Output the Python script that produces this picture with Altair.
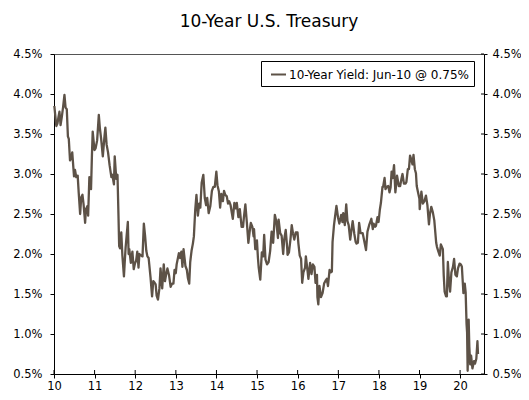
import altair as alt
import pandas as pd

# ---- data (10-year Treasury yield, %) ----
dates = [
    "2010-01-04","2010-01-12","2010-01-22","2010-02-01","2010-02-10","2010-02-19","2010-03-01","2010-03-12","2010-03-24","2010-04-05",
    "2010-04-15","2010-04-26","2010-05-06","2010-05-14","2010-05-25","2010-06-04","2010-06-14","2010-06-30","2010-07-09","2010-07-20",
    "2010-08-02","2010-08-11","2010-08-24","2010-09-03","2010-09-14","2010-09-24","2010-10-08","2010-10-15","2010-10-29","2010-11-04",
    "2010-11-15","2010-11-30","2010-12-08","2010-12-15","2010-12-31",
    "2011-01-10","2011-01-24","2011-02-08","2011-02-17","2011-03-01","2011-03-16","2011-03-31","2011-04-08","2011-04-19","2011-05-02",
    "2011-05-16","2011-06-01","2011-06-10","2011-06-24","2011-07-01","2011-07-15","2011-07-26","2011-08-04","2011-08-10","2011-08-18",
    "2011-08-29","2011-09-08","2011-09-22","2011-09-30","2011-10-07","2011-10-27","2011-11-03","2011-11-09","2011-11-23","2011-12-07",
    "2011-12-19","2011-12-30",
    "2012-01-10","2012-01-20","2012-01-31","2012-02-08","2012-02-24","2012-03-07","2012-03-19","2012-03-30","2012-04-10","2012-04-20",
    "2012-05-01","2012-05-18","2012-06-01","2012-06-12","2012-06-20","2012-07-03","2012-07-12","2012-07-24","2012-08-06","2012-08-16",
    "2012-08-31","2012-09-14","2012-09-25","2012-10-05","2012-10-17","2012-11-01","2012-11-15","2012-11-28","2012-12-10","2012-12-20",
    "2012-12-31",
    "2013-01-08","2013-01-28","2013-02-08","2013-02-19","2013-03-01","2013-03-11","2013-03-28","2013-04-10","2013-04-19","2013-05-01",
    "2013-05-10","2013-05-22","2013-06-03","2013-06-12","2013-06-24","2013-07-05","2013-07-18","2013-07-30","2013-08-09","2013-08-21",
    "2013-09-05","2013-09-18","2013-09-30","2013-10-10","2013-10-23","2013-11-07","2013-11-21","2013-12-04","2013-12-17","2013-12-31",
    "2014-01-10","2014-01-23","2014-02-03","2014-02-14","2014-02-28","2014-03-10","2014-03-21","2014-04-04","2014-04-15","2014-04-25",
    "2014-05-08","2014-05-28","2014-06-11","2014-06-24","2014-07-03","2014-07-17","2014-07-30","2014-08-15","2014-08-28","2014-09-05",
    "2014-09-18","2014-10-01","2014-10-15","2014-10-30","2014-11-06","2014-11-20","2014-12-01","2014-12-05","2014-12-16","2014-12-31",
    "2015-01-09","2015-01-16","2015-01-30","2015-02-13","2015-02-25","2015-03-06","2015-03-18","2015-04-01","2015-04-15","2015-04-29",
    "2015-05-12","2015-05-26","2015-06-10","2015-06-23","2015-07-08","2015-07-14","2015-07-28","2015-08-10","2015-08-24","2015-09-02",
    "2015-09-16","2015-09-30","2015-10-02","2015-10-15","2015-10-29","2015-11-09","2015-11-20","2015-12-02","2015-12-15","2015-12-31",
    "2016-01-08","2016-01-20","2016-02-01","2016-02-11","2016-02-22","2016-03-08","2016-03-15","2016-03-31","2016-04-07","2016-04-22",
    "2016-05-05","2016-05-17","2016-05-31","2016-06-10","2016-06-23","2016-06-27","2016-07-05","2016-07-15","2016-07-29","2016-08-12",
    "2016-08-26","2016-09-09","2016-09-19","2016-09-30","2016-10-14","2016-10-25","2016-11-04","2016-11-10","2016-11-23","2016-12-01",
    "2016-12-15","2016-12-30",
    "2017-01-10","2017-01-18","2017-01-27","2017-02-07","2017-02-14","2017-02-28","2017-03-13","2017-03-24","2017-04-04","2017-04-18",
    "2017-05-01","2017-05-10","2017-05-25","2017-06-06","2017-06-14","2017-06-26","2017-07-07","2017-07-20","2017-08-08","2017-08-18",
    "2017-09-07","2017-09-20","2017-10-05","2017-10-25","2017-11-07","2017-11-14","2017-11-28","2017-12-05","2017-12-19","2017-12-29",
    "2018-01-09","2018-01-19","2018-02-02","2018-02-08","2018-02-21","2018-03-01","2018-03-13","2018-03-26","2018-04-06","2018-04-16",
    "2018-04-25","2018-05-04","2018-05-17","2018-05-29","2018-06-13","2018-06-29","2018-07-11","2018-07-24","2018-08-01","2018-08-14",
    "2018-08-29","2018-09-05","2018-09-18","2018-09-28","2018-10-08","2018-10-17","2018-10-30","2018-11-08","2018-11-20","2018-11-30",
    "2018-12-07","2018-12-19","2018-12-31",
    "2019-01-03","2019-01-18","2019-01-31","2019-02-14","2019-02-28","2019-03-13","2019-03-27","2019-04-05","2019-04-17","2019-05-01",
    "2019-05-14","2019-05-31","2019-06-07","2019-06-20","2019-07-02","2019-07-12","2019-07-30","2019-08-07","2019-08-15","2019-08-28",
    "2019-09-04","2019-09-13","2019-09-24","2019-10-03","2019-10-15","2019-10-29","2019-11-08","2019-11-20","2019-12-03","2019-12-13",
    "2019-12-27",
    "2020-01-08","2020-01-17","2020-01-31","2020-02-12","2020-02-20","2020-02-28","2020-03-04","2020-03-09","2020-03-18","2020-03-24",
    "2020-04-01","2020-04-09","2020-04-21","2020-05-05","2020-05-14","2020-05-26","2020-06-05","2020-06-10",
]
yields = [
    3.85,3.74,3.60,3.63,3.71,3.78,3.61,3.71,3.84,3.99,
    3.83,3.81,3.47,3.44,3.17,3.20,3.27,2.97,3.05,2.96,
    2.98,2.77,2.50,2.71,2.74,2.62,2.39,2.56,2.60,2.48,
    2.96,2.81,3.23,3.53,3.30,
    3.32,3.42,3.74,3.58,3.44,3.22,3.47,3.58,3.37,3.27,
    3.11,2.96,2.99,2.87,3.22,2.94,2.99,2.47,2.10,2.07,
    2.27,1.98,1.72,1.92,2.08,2.40,2.00,2.06,1.89,2.03,
    1.81,1.88,
    1.92,2.03,1.83,2.00,1.98,1.97,2.38,2.23,2.04,1.97,
    1.95,1.71,1.47,1.66,1.65,1.62,1.48,1.43,1.57,1.82,
    1.57,1.87,1.66,1.74,1.82,1.73,1.59,1.63,1.63,1.80,
    1.76,
    1.87,2.01,1.95,2.03,1.84,2.06,1.85,1.80,1.70,1.63,
    1.90,2.04,2.13,2.22,2.55,2.74,2.48,2.63,2.58,2.89,
    2.99,2.70,2.61,2.70,2.51,2.60,2.79,2.84,2.84,3.03,
    2.86,2.78,2.58,2.75,2.66,2.79,2.74,2.72,2.63,2.66,
    2.61,2.44,2.64,2.57,2.64,2.46,2.56,2.34,2.34,2.46,
    2.62,2.40,2.14,2.32,2.39,2.34,2.22,2.31,2.06,2.17,
    1.95,1.83,1.68,2.02,1.97,2.24,1.93,1.87,1.90,2.04,
    2.28,2.14,2.49,2.41,2.20,2.43,2.26,2.23,2.00,2.18,
    2.30,2.06,1.99,2.02,2.19,2.36,2.26,2.18,2.27,2.27,
    2.13,1.98,1.94,1.64,1.77,1.83,1.97,1.78,1.69,1.89,
    1.75,1.87,1.84,1.64,1.74,1.46,1.37,1.60,1.46,1.51,
    1.63,1.67,1.69,1.60,1.80,1.77,1.78,2.15,2.36,2.45,
    2.60,2.45,
    2.38,2.43,2.49,2.40,2.51,2.36,2.62,2.41,2.36,2.18,
    2.32,2.41,2.25,2.15,2.13,2.14,2.39,2.26,2.26,2.19,
    2.05,2.28,2.36,2.44,2.31,2.38,2.34,2.35,2.46,2.40,
    2.55,2.64,2.84,2.84,2.95,2.81,2.84,2.85,2.77,2.83,
    3.03,2.95,3.11,2.77,2.98,2.85,2.85,2.95,3.00,2.88,
    2.88,2.90,3.06,3.06,3.23,3.19,3.12,3.24,3.06,3.01,
    2.85,2.77,2.69,
    2.56,2.78,2.63,2.66,2.73,2.61,2.37,2.50,2.59,2.52,
    2.42,2.14,2.09,2.03,1.98,2.12,2.06,1.73,1.53,1.47,
    1.47,1.90,1.64,1.53,1.77,1.84,1.94,1.74,1.72,1.82,
    1.88,
    1.87,1.84,1.51,1.63,1.52,1.13,1.02,0.54,1.18,0.84,
    0.62,0.73,0.57,0.66,0.63,0.69,0.91,0.75,
]
chart_title = "10-Year U.S. Treasury"
series_name = "10-Year Yield: Jun-10 @ 0.75%"
y_ticks = [0.5, 1.0, 1.5, 2.0, 2.5, 3.0, 3.5, 4.0, 4.5]
tick_years = list(range(2010, 2021))

df = pd.DataFrame({"date": dates, "yield": yields, "series": series_name})
yticks_df = pd.DataFrame({"v": y_ticks})
years_df = pd.DataFrame({"date": [f"{y}-01-01" for y in tick_years]})
title_df = pd.DataFrame({"t": [chart_title]})

W, H = 430, 320
FONT = "DejaVu Sans"
LINE_COLOR = "#5d5247"
LBL = 11.5

x_scale = alt.Scale(type="utc", domain=[alt.DateTime(year=2010, month=1, date=1, utc=True),
                                        alt.DateTime(year=2020, month=8, date=3, utc=True)])
x_axis = alt.Axis(values=[alt.DateTime(year=y, month=1, date=1, utc=True) for y in tick_years],
                  format="%y", tickSize=4, labelPadding=2, title=None, grid=False,
                  labelFontSize=LBL, labelFont=FONT, labelColor="#000",
                  domainColor="#000", tickColor="#000", labelFlush=False)
y_scale = alt.Scale(domain=[0.5, 4.5], nice=False, zero=False)
label_expr = "format(datum.value, '.1f') + '%'"

line = alt.Chart(df).mark_line(strokeWidth=2.3, strokeJoin="round").encode(
    x=alt.X("date:T", scale=x_scale, axis=x_axis),
    y=alt.Y("yield:Q", scale=y_scale,
            axis=alt.Axis(values=y_ticks, labelExpr=label_expr, tickSize=4, labelPadding=8,
                          title=None, grid=False, labelFontSize=LBL, labelFont=FONT,
                          labelColor="#000", domainColor="#000", tickColor="#000")),
    color=alt.Color("series:N", scale=alt.Scale(range=[LINE_COLOR]),
                    legend=alt.Legend(title=None, orient="none", legendX=207, legendY=7,
                                      symbolType="stroke", symbolSize=225, symbolStrokeWidth=2,
                                      labelFontSize=12, labelFont=FONT, labelColor="#000",
                                      labelLimit=400, strokeColor="#000", fillColor="#fff",
                                      padding=5, symbolOffset=4, labelOffset=2)),
)

bottom_inner_ticks = alt.Chart(years_df).mark_rule(color="#000", strokeWidth=1).encode(
    x=alt.X("date:T", scale=x_scale, axis=x_axis),
    y=alt.value(H - 4),
    y2=alt.value(H),
)

right_axis = alt.Chart(yticks_df).mark_rule(color="#000", strokeWidth=1).encode(
    y=alt.Y("v:Q", scale=y_scale,
            axis=alt.Axis(orient="right", values=y_ticks, labelExpr=label_expr, tickSize=3,
                          labelPadding=5, title=None, grid=False, labelFontSize=LBL,
                          labelFont=FONT, labelColor="#000", domainColor="#000",
                          tickColor="#000")),
    x=alt.value(W - 3),
    x2=alt.value(W),
)

title_text = alt.Chart(title_df).mark_text(
    font=FONT, fontSize=17, color="#000", align="center", baseline="alphabetic"
).encode(text="t:N", x=alt.value(W / 2), y=alt.value(-27))

chart = alt.layer(line, bottom_inner_ticks, right_axis, title_text).resolve_scale(y="independent").properties(
    width=W, height=H,
    autosize="none",
    padding={"left": 46, "top": 46, "right": 37, "bottom": 18},
).configure_view(stroke="#555", strokeWidth=1)

chart.save("out.html", embed_options={"renderer": "svg", "actions": False})
